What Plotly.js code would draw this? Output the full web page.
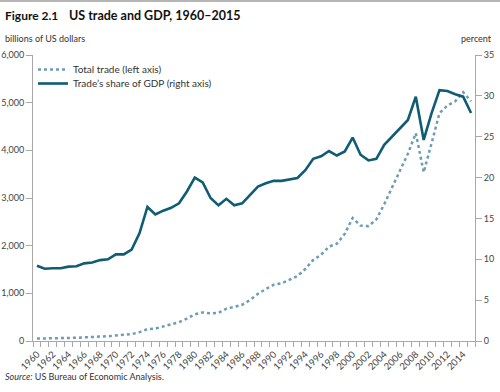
<!DOCTYPE html>
<html>
<head>
<meta charset="utf-8">
<script src="https://cdn.plot.ly/plotly-3.0.1.min.js"></script>
<style>html,body{margin:0;padding:0;background:#fff;}#chart{width:500px;height:392px;}</style>
</head>
<body>
<div id="chart"></div>
<script>
const years = [1960,1961,1962,1963,1964,1965,1966,1967,1968,1969,1970,1971,1972,1973,1974,1975,1976,1977,1978,1979,1980,1981,1982,1983,1984,1985,1986,1987,1988,1989,1990,1991,1992,1993,1994,1995,1996,1997,1998,1999,2000,2001,2002,2003,2004,2005,2006,2007,2008,2009,2010,2011,2012,2013,2014,2015];
const totalTrade = [50,51,54,57,63,68,76,80,90,100,115,122,143,185,250,260,300,340,395,470,560,600,580,590,680,715,760,860,990,1090,1180,1210,1290,1360,1510,1700,1810,1980,2040,2250,2580,2420,2410,2550,2870,3220,3580,3930,4360,3540,4150,4780,4940,5030,5220,5030];
const tradeShare = [9.2,8.85,8.9,8.9,9.1,9.15,9.5,9.6,9.9,10.0,10.6,10.6,11.2,13.2,16.4,15.5,15.95,16.3,16.85,18.3,20.0,19.4,17.5,16.6,17.4,16.6,16.85,17.9,18.9,19.3,19.6,19.6,19.8,19.95,20.9,22.3,22.6,23.25,22.7,23.2,24.9,22.8,22.1,22.3,24.0,25.0,26.1,27.05,29.9,24.6,27.9,30.7,30.6,30.2,29.9,27.9];
const labelYears = years.filter(y => y % 2 === 0);
const leftTicks = [0,1000,2000,3000,4000,5000,6000];
const rightTicks = [0,5,10,15,20,25,30,35];

const FONT = 'Lato, "Open Sans", sans-serif';
const boundaries = years.map(y => y - 0.5).concat([years[years.length-1] + 0.5]);

const traces = [
  {x: years, y: totalTrade, name: 'Total trade (left axis)', type: 'scatter', mode: 'lines',
   line: {color: '#6d9cb5', width: 2.5, dash: 'dot'}, yaxis: 'y', legend: 'legend'},
  {x: years, y: tradeShare, name: "Trade’s share of GDP (right axis)", type: 'scatter', mode: 'lines',
   line: {color: '#0f5c73', width: 2.6}, yaxis: 'y2', legend: 'legend2'}
];

const axisColor = '#a8a8a8';
const legendFont = {family: FONT, size: 10, color: '#333'};
const layout = {
  width: 500, height: 392,
  margin: {l: 33, r: 25, t: 55, b: 51},
  paper_bgcolor: '#fff', plot_bgcolor: '#fff',
  font: {family: FONT, size: 9, color: '#333'},
  showlegend: true,
  legend: {x: 0.0, y: 1.0, xanchor: 'left', yanchor: 'top', bgcolor: 'rgba(0,0,0,0)',
           font: legendFont, itemwidth: 30},
  legend2: {x: 0.0, y: (341-69)/286, xanchor: 'left', yanchor: 'top', bgcolor: 'rgba(0,0,0,0)',
           font: legendFont, itemwidth: 30},
  xaxis: {
    range: [years[0] - 0.5, years[years.length-1] + 0.5],
    tickmode: 'array', tickvals: labelYears, ticktext: labelYears.map(String),
    ticks: '', tickangle: -45, tickfont: {family: FONT, size: 9.5, color: '#444'},
    ticklabelstandoff: 3,
    showline: true, linecolor: axisColor, linewidth: 1, showgrid: false, zeroline: false,
    minor: {tickmode: 'array', tickvals: boundaries, ticks: 'outside', ticklen: 5, tickcolor: axisColor, tickwidth: 1, showgrid: false}
  },
  yaxis: {
    range: [0, 6000], tickmode: 'array', tickvals: leftTicks,
    ticktext: leftTicks.map(v => v.toLocaleString('en-US')),
    ticks: 'outside', ticklen: 6, tickcolor: axisColor,
    showline: true, linecolor: axisColor, linewidth: 1, showgrid: false, zeroline: false,
    tickfont: {family: FONT, size: 9, color: '#444'}
  },
  yaxis2: {
    range: [0, 35], tickmode: 'array', tickvals: rightTicks, overlaying: 'y', side: 'right',
    ticks: 'outside', ticklen: 6, tickcolor: axisColor,
    showline: true, linecolor: axisColor, linewidth: 1, showgrid: false, zeroline: false,
    tickfont: {family: FONT, size: 9, color: '#444'}
  },
  shapes: [
    {type: 'line', xref: 'paper', yref: 'paper', x0: -33/442, x1: 467/442, y0: 340/286, y1: 340/286,
     line: {color: '#b5b5b5', width: 2}}
  ],
  annotations: [
    {text: '<b>Figure 2.1</b>', xref: 'paper', yref: 'paper', x: -30/442, y: (341-15)/286,
     xanchor: 'left', yanchor: 'middle', showarrow: false, font: {family: FONT, size: 12, color: '#111'}},
    {text: '<b>US trade and GDP, 1960–2015</b>', xref: 'paper', yref: 'paper', x: 34/442, y: (341-15)/286,
     xanchor: 'left', yanchor: 'middle', showarrow: false, font: {family: FONT, size: 12.5, color: '#111'}},
    {text: 'billions of US dollars', xref: 'paper', yref: 'paper', x: -30/442, y: (341-38)/286,
     xanchor: 'left', yanchor: 'middle', showarrow: false, font: {family: FONT, size: 9, color: '#333'}},
    {text: 'percent', xref: 'paper', yref: 'paper', x: (494-33)/442, y: (341-38)/286,
     xanchor: 'right', yanchor: 'middle', showarrow: false, font: {family: FONT, size: 9, color: '#333'}},
    {text: '<i>Source:</i> US Bureau of Economic Analysis.', xref: 'paper', yref: 'paper', x: -30/442, y: (341-376)/286,
     xanchor: 'left', yanchor: 'middle', showarrow: false, font: {family: FONT, size: 9, color: '#333'}}
  ]
};

Plotly.newPlot('chart', traces, layout, {displayModeBar: false, staticPlot: true});
</script>
</body>
</html>
